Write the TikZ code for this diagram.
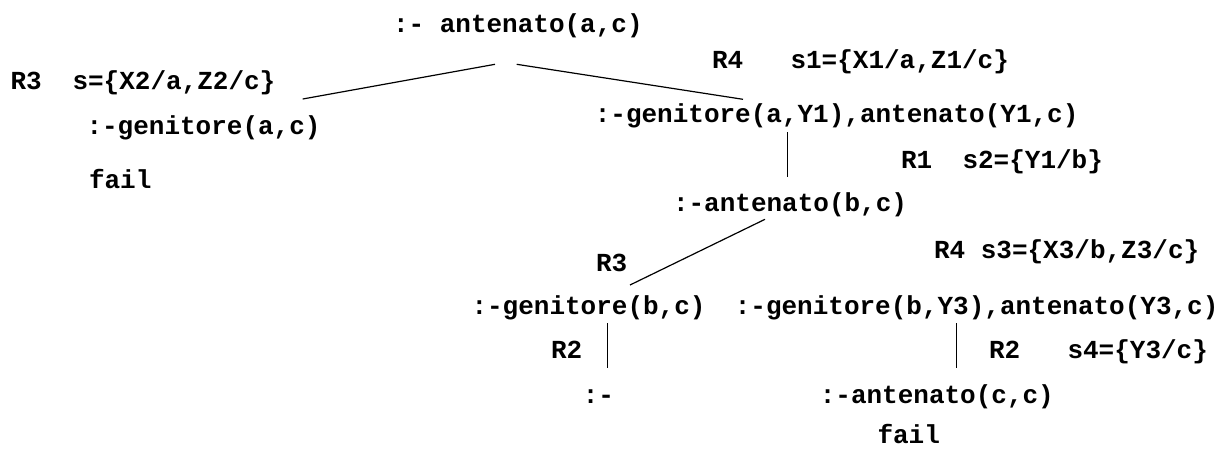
\documentclass[tikz,border=0pt]{standalone}
\usepackage{fontspec}
\setmainfont{Liberation Mono}
\usetikzlibrary{calc}
\tikzset{
  term/.style={anchor=base west, inner sep=0pt, outer sep=0pt,
    font=\fontsize{26}{28}\selectfont\bfseries},
  edge/.style={draw=black, line width=1.2pt}
}
\begin{document}
\begin{tikzpicture}[x=1pt, y=-1pt]
  \fill[white] (0,0) rectangle (1219,448);
  \useasboundingbox (0,0) rectangle (1219,448);

  % goals of the SLD tree
  \node[term] (top)  at (393,32)     {:- antenato(a,c)};
  \node[term] (gac)  at (86.5,134)   {:-genitore(a,c)};
  \node[term] (fl1)  at (89,188)     {fail};
  \node[term] (g1)   at (594.8,122)  {:-genitore(a,Y1),antenato(Y1,c)};
  \node[term] (abc)  at (673,211)    {:-antenato(b,c)};
  \node[term] (gbc)  at (471.5,314)  {:-genitore(b,c)};
  \node[term] (g3)   at (734.8,314)  {:-genitore(b,Y3),antenato(Y3,c)};
  \node[term] (emp)  at (582.8,403)  {:-};
  \node[term] (acc)  at (819.8,403)  {:-antenato(c,c)};
  \node[term] (fl2)  at (877.5,443)  {fail};

  % rule labels and substitutions
  \node[term] (r3a)  at (10.5,89)    {R3};
  \node[term] (s0)   at (72.5,89)    {s=\{X2/a,Z2/c\}};
  \node[term] (r4a)  at (712,68)     {R4};
  \node[term] (s1)   at (790.5,68)   {s1=\{X1/a,Z1/c\}};
  \node[term] (r1)   at (901,168)    {R1};
  \node[term] (s2)   at (962.5,168)  {s2=\{Y1/b\}};
  \node[term] (r4b)  at (934,258)    {R4};
  \node[term] (s3)   at (980.8,258)  {s3=\{X3/b,Z3/c\}};
  \node[term] (r3b)  at (596,271)    {R3};
  \node[term] (r2a)  at (551,358)    {R2};
  \node[term] (r2b)  at (989,358)    {R2};
  \node[term] (s4)   at (1067.5,358) {s4=\{Y3/c\}};

  % resolution steps
  \draw[edge] ($(top.base west)+(102,32.3)$)   -- ($(gac.base west)+(216.2,-35)$);
  \draw[edge] ($(top.base west)+(123.7,32.3)$) -- ($(g1.base west)+(148.2,-22.7)$);
  \draw[edge] ($(g1.base west)+(192.5,10)$)    -- ($(abc.base west)+(114.3,-34.3)$);
  \draw[edge] ($(abc.base west)+(92,8.3)$)     -- ($(gbc.base west)+(158.5,-29)$);
  \draw[edge] ($(gbc.base west)+(135.8,9.3)$)  -- ($(emp.base west)+(24.5,-34.7)$);
  \draw[edge] ($(g3.base west)+(221.7,9.3)$)   -- ($(acc.base west)+(136.7,-34.7)$);
\end{tikzpicture}
\end{document}
